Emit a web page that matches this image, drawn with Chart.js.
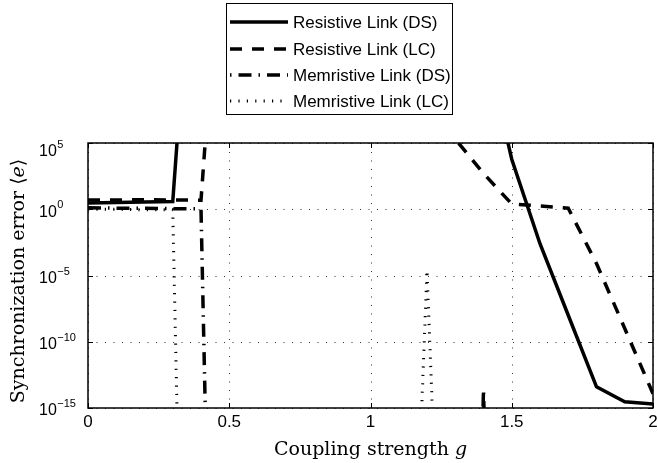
<!DOCTYPE html>
<html>
<head>
<meta charset="utf-8">
<script src="https://cdn.jsdelivr.net/npm/chart.js@4.4.1/dist/chart.umd.min.js"></script>
<style>
  html, body { margin: 0; padding: 0; background: #fff; }
  #wrap { width: 658px; height: 463px; }
</style>
</head>
<body>
<div id="wrap"><canvas id="chart" width="658" height="463"></canvas></div>
<script>
// coupling strength samples
const g = [0, 0.1, 0.2, 0.3, 0.4, 0.5, 0.6, 0.7, 0.8, 0.9, 1.0, 1.1, 1.2, 1.3, 1.4, 1.5, 1.6, 1.7, 1.8, 1.9, 2.0];

// synchronization error <e> per link type (values off the plot are rough guesses)
const resistiveDS = [3.0, 3.2, 3.5, 3.8, 1e30, 1e30, 1e30, 1e30, 1e30, 1e30, 1e30, 1e30, 1e30, 1e30, 1e13, 6e3, 2.5e-3, 1e-8, 4e-14, 3e-15, 2e-15];
const resistiveLC = [5.0, 5.0, 5.2, 5.0, 4.8, 1e30, 1e30, 1e30, 1e30, 1e30, 1e30, 1e30, 1e30, 2e5, 5e2, 2.5, 1.8, 1.2, 8e-5, 1e-9, 1.2e-14];
const memristiveDS = [1.3, 1.2, 1.2, 1.1, 1.1, 1e-100, 1e-100, 1e-100, 1e-100, 1e-100, 1e-100, 1e-100, 1e-100, 1e-100, 2.5e-14, 1e-100, 1e-100, 1e-100, 1e-100, 1e-100, 1e-100];
const memristiveLC = [1.0, 1.0, 0.9, 0.9, 1e-100, 1e-100, 1e-100, 1e-100, 1e-100, 1e-100, 1e-100, 1e-60, 2.5e-5, 1e-60, 1e-100, 1e-100, 1e-100, 1e-100, 1e-100, 1e-100, 1e-100];

const seriesNames = ['Resistive Link (DS)', 'Resistive Link (LC)', 'Memristive Link (DS)', 'Memristive Link (LC)'];

// ticks
const xTicks = [0, 0.5, 1, 1.5, 2];
const xTickLabels = ['0', '0.5', '1', '1.5', '2'];
const yTickExp = [-15, -10, -5, 0, 5];

const toPoints = vals => g.map((x, i) => ({ x: x, y: vals[i] }));

const matlabLook = {
  id: 'matlabLook',
  beforeDatasetsDraw(chart) {
    const { ctx, chartArea: a, scales: { x, y } } = chart;
    ctx.save();
    ctx.strokeStyle = 'rgba(0,0,0,0.8)';
    ctx.lineWidth = 1;
    ctx.setLineDash([1, 7.5]);
    xTicks.forEach(v => {
      const px = Math.round(x.getPixelForValue(v)) + 0.5;
      ctx.beginPath(); ctx.moveTo(px, a.bottom); ctx.lineTo(px, a.top); ctx.stroke();
    });
    yTickExp.forEach(e => {
      const py = Math.round(y.getPixelForValue(Math.pow(10, e))) + 0.5;
      ctx.beginPath(); ctx.moveTo(a.left, py); ctx.lineTo(a.right, py); ctx.stroke();
    });
    ctx.restore();
  },
  afterDatasetsDraw(chart) {
    const { ctx, chartArea: a, scales: { x, y } } = chart;
    ctx.save();
    ctx.setLineDash([]);
    ctx.strokeStyle = '#000';
    ctx.fillStyle = '#000';

    // frame
    ctx.lineWidth = 1.5;
    ctx.strokeRect(a.left, a.top, a.right - a.left, a.bottom - a.top);

    // inward tick marks
    ctx.lineWidth = 1;
    const tl = 5;
    xTicks.forEach(v => {
      const px = Math.round(x.getPixelForValue(v)) + 0.5;
      ctx.beginPath();
      ctx.moveTo(px, a.bottom); ctx.lineTo(px, a.bottom - tl);
      ctx.moveTo(px, a.top); ctx.lineTo(px, a.top + tl);
      ctx.stroke();
    });
    yTickExp.forEach(e => {
      const py = Math.round(y.getPixelForValue(Math.pow(10, e))) + 0.5;
      ctx.beginPath();
      ctx.moveTo(a.left, py); ctx.lineTo(a.left + tl, py);
      ctx.moveTo(a.right, py); ctx.lineTo(a.right - tl, py);
      ctx.stroke();
    });

    // x tick labels
    ctx.font = '17px "Liberation Sans", Arial, sans-serif';
    ctx.textAlign = 'center';
    ctx.textBaseline = 'top';
    xTicks.forEach((v, i) => {
      ctx.fillText(xTickLabels[i], x.getPixelForValue(v), a.bottom + 6);
    });

    // y tick labels: 10 with superscript exponent
    ctx.textAlign = 'left';
    ctx.textBaseline = 'middle';
    yTickExp.forEach((e, i) => {
      let py = y.getPixelForValue(Math.pow(10, e)) + 3;
      if (i === yTickExp.length - 1) py += 6;
      ctx.font = '16px "Liberation Sans", Arial, sans-serif';
      ctx.fillText('10', 39, py);
      const w = ctx.measureText('10').width;
      ctx.font = '11px "Liberation Sans", Arial, sans-serif';
      ctx.fillText(String(e).replace('-', '\u2212'), 39 + w + 0.5, py - 7);
    });

    // axis titles
    const serif = '"DejaVu Serif", "Liberation Serif", serif';
    ctx.textBaseline = 'alphabetic';
    ctx.font = '19px ' + serif;
    const xt1 = 'Coupling strength ';
    const w1 = ctx.measureText(xt1).width;
    ctx.font = 'italic 19px ' + serif;
    const w2 = ctx.measureText('g').width;
    const xStart = (a.left + a.right) / 2 - (w1 + w2) / 2;
    ctx.font = '19px ' + serif;
    ctx.fillText(xt1, xStart, 455);
    ctx.font = 'italic 19px ' + serif;
    ctx.fillText('g', xStart + w1, 455);

    ctx.save();
    ctx.translate(24, 281);
    ctx.rotate(-Math.PI / 2);
    const parts = [['Synchronization error \u27e8', ''], ['e', 'italic '], ['\u27e9', '']];
    let total = 0;
    parts.forEach(p => { ctx.font = p[1] + '19px ' + serif; total += ctx.measureText(p[0]).width; });
    let cx = -total / 2;
    parts.forEach(p => {
      ctx.font = p[1] + '19px ' + serif;
      ctx.fillText(p[0], cx, 0);
      cx += ctx.measureText(p[0]).width;
    });
    ctx.restore();

    // legend box
    const lx = 226.5, ly = 3.5, lw = 226, lh = 111;
    ctx.lineWidth = 1;
    ctx.strokeRect(lx, ly, lw, lh);
    const rows = [22, 49, 75, 101];
    ctx.font = '17px "Liberation Sans", Arial, sans-serif';
    ctx.textBaseline = 'middle';
    chart.data.datasets.forEach((ds, i) => {
      const ry = rows[i];
      ctx.save();
      ctx.lineWidth = ds.borderWidth;
      ctx.lineCap = 'butt';
      ctx.setLineDash(ds.borderDash || []);
      ctx.lineDashOffset = ds.legendDashOffset || 0;
      ctx.beginPath();
      ctx.moveTo(230, ry); ctx.lineTo(288, ry);
      ctx.stroke();
      ctx.restore();
      ctx.fillText(ds.label, 293, ry + 1);
    });
    ctx.restore();
  }
};

new Chart(document.getElementById('chart'), {
  type: 'line',
  data: {
    datasets: [
      { label: seriesNames[0], data: toPoints(resistiveDS), borderColor: '#000', borderWidth: 3.5, borderDash: [] },
      { label: seriesNames[1], data: toPoints(resistiveLC), borderColor: '#000', borderWidth: 3.5, borderDash: [12, 10] },
      { label: seriesNames[2], data: toPoints(memristiveDS), borderColor: '#000', borderWidth: 3.5, borderDash: [13, 7, 1.5, 7], legendDashOffset: 20 },
      { label: seriesNames[3], data: toPoints(memristiveLC), borderColor: '#000', borderWidth: 3, borderDash: [1.2, 7.2] }
    ]
  },
  options: {
    responsive: false,
    devicePixelRatio: 1,
    animation: false,
    elements: { point: { radius: 0 }, line: { tension: 0, fill: false } },
    layout: { padding: { top: 143, right: 5, left: 0, bottom: 0 } },
    plugins: { legend: { display: false }, tooltip: { enabled: false } },
    scales: {
      x: {
        type: 'linear', min: 0, max: 2,
        ticks: { display: false },
        grid: { display: false },
        border: { display: false },
        afterFit: s => { s.height = 55; }
      },
      y: {
        type: 'logarithmic', min: 1e-15, max: 1e5,
        ticks: { display: false },
        grid: { display: false },
        border: { display: false },
        afterFit: s => { s.width = 88; }
      }
    }
  },
  plugins: [matlabLook]
});
</script>
</body>
</html>
